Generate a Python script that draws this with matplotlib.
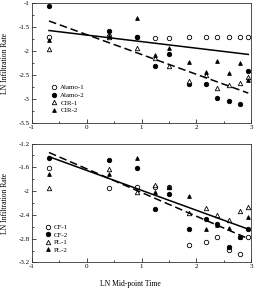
import matplotlib
matplotlib.use("Agg")
import matplotlib.pyplot as plt
from matplotlib.ticker import MultipleLocator, FuncFormatter

plt.rcParams['font.family'] = ['Liberation Serif', 'DejaVu Serif']

# LN mid-point times shared by all series
t = [-0.69, 0.405, 0.92, 1.25, 1.50, 1.86, 2.18, 2.38, 2.59, 2.79, 2.95]

# top panel
alamo1 = [-1.71, -1.68, -1.71, -1.73, -1.73, -1.71, -1.71, -1.71, -1.71, -1.71, -1.71]
alamo2 = [-1.06, -1.58, -1.71, -2.31, -2.07, -2.69, -2.69, -2.99, -3.04, -3.11, -2.41]
cir1 = [-1.96, -1.71, -1.94, -2.15, -2.31, -2.62, -2.50, -2.78, -2.71, -2.67, -2.54]
cir2 = [-1.77, -1.68, -1.30, -2.08, -1.93, -2.22, -2.43, -2.20, -2.46, -2.26, -2.60]

# bottom panel
cf1 = [-1.61, -1.94, -1.93, -1.93, -1.93, -2.91, -2.85, -2.77, -2.99, -3.06, -2.77]
cf2 = [-1.45, -1.47, -1.61, -2.30, -2.05, -2.64, -2.47, -2.56, -2.94, -2.78, -2.64]
pl1 = [-1.95, -1.62, -2.01, -1.89, -1.93, -2.36, -2.29, -2.41, -2.49, -2.33, -2.26]
pl2 = [-1.72, -1.72, -1.44, -2.01, -1.93, -2.08, -2.64, -2.57, -2.62, -2.78, -2.44]

# fitted lines (end points)
fit_x = [-0.69, 2.95]
top_solid = [-1.57, -2.07]
top_dash = [-1.37, -2.88]
bot_solid = [-1.42, -2.64]
bot_dash = [-1.35, -2.80]

fig = plt.figure(figsize=(2.54, 2.89), dpi=100)
ax1 = fig.add_axes([32/254, 1-122.7/289, 219/254, 119.4/289])
ax2 = fig.add_axes([32/254, 1-262.4/289, 219/254, 118.8/289])

ms = 3.2
lw_m = 0.6
fmt = FuncFormatter(lambda v, p: '%g' % round(v, 2))

def draw(ax, s1, s2, s3, s4, names, solid, dash):
    ax.plot(t, s1, 'o', ms=ms, mfc='white', mec='black', mew=lw_m, label=names[0], ls='none')
    ax.plot(t, s2, 'o', ms=ms, mfc='black', mec='black', mew=lw_m, label=names[1], ls='none')
    ax.plot(t, s3, '^', ms=ms, mfc='white', mec='black', mew=lw_m, label=names[2], ls='none')
    ax.plot(t, s4, '^', ms=ms * 0.85, mfc='black', mec='black', mew=lw_m, label=names[3], ls='none')
    ax.plot(fit_x, solid, '-', color='black', lw=1.1)
    ax.plot(fit_x, dash, '--', color='black', lw=1.1, dashes=(5, 2.5))
    ax.set_xlim(-1, 3)
    ax.xaxis.set_major_locator(MultipleLocator(1))
    ax.xaxis.set_minor_locator(MultipleLocator(0.5))
    ax.xaxis.set_major_formatter(fmt)
    ax.yaxis.set_major_formatter(fmt)
    ax.tick_params(which='both', direction='in', labelsize=5, width=0.5, pad=1.5)
    ax.tick_params(which='major', length=3)
    ax.tick_params(which='minor', length=1.5)
    for sp in ax.spines.values():
        sp.set_linewidth(0.6)
        sp.set_color('#333333')
    ax.set_ylabel('LN Infiltration Rate', fontsize=5.5)
    ax.yaxis.set_label_coords(-0.105, 0.5)
    ax.legend(loc='lower left', frameon=False, fontsize=5,
              handlelength=1, handletextpad=0.4, labelspacing=0.25, borderpad=0, borderaxespad=0)

draw(ax1, alamo1, alamo2, cir1, cir2, ['Alamo-1', 'Alamo-2', 'CIR-1', 'CIR-2'], top_solid, top_dash)
ax1.set_ylim(-3.5, -1)
ax1.yaxis.set_major_locator(MultipleLocator(0.5))
ax1.yaxis.set_minor_locator(MultipleLocator(0.25))
ax1.get_legend().set_bbox_to_anchor((0.085, 0.08))

draw(ax2, cf1, cf2, pl1, pl2, ['CF-1', 'CF-2', 'PL-1', 'PL-2'], bot_solid, bot_dash)
ax2.set_ylim(-3.2, -1.2)
ax2.yaxis.set_major_locator(MultipleLocator(0.4))
ax2.yaxis.set_minor_locator(MultipleLocator(0.2))
ax2.get_legend().set_bbox_to_anchor((0.055, 0.08))
ax2.set_xlabel('LN Mid-point Time', fontsize=5.5)
ax2.xaxis.set_label_coords(0.447, -0.15)

fig.savefig('out.png', dpi=100)
